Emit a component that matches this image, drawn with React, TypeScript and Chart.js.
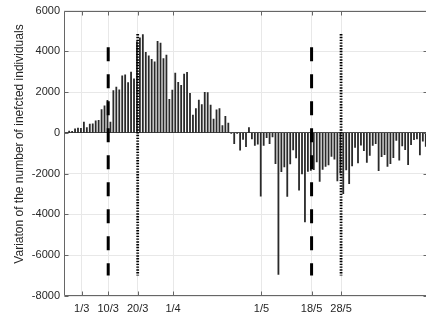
import React, { useEffect, useRef } from 'react';
import { Chart, registerables } from 'chart.js';

Chart.register(...registerables);

// Days are counted from 1 March 2020 (day 0). First bar: 25 February 2020.
const firstDay = -5;
const bulletinHour = 0.75; // daily bulletins are stamped 18:00

// Daily variation of currently infected individuals, 25 Feb -> 25 Jun 2020
const febValues = [90, 74, 203, 233, 228];
const marValues = [528, 258, 428, 443, 590, 620, 1145, 1326, 1598, 529, 2076, 2249, 2116, 2795, 2853, 2470, 2989, 2648, 4480, 4670, 4821, 3957, 3780, 3612, 3491, 4492, 4401, 3651, 3815, 1648, 2107];
const aprValues = [2937, 2477, 2339, 2886, 2972, 1941, 880, 1195, 1615, 1396, 1996, 1984, 1363, 675, 1127, 1189, 355, 809, 486, -20, -528, -10, -851, -321, -680, 256, -290, -608, -548, -3106];
const mayValues = [-608, -239, -525, -199, -1513, -6939, -1904, -1663, -3119, -1518, -836, -1222, -2809, -2017, -4370, -1883, -1836, -1798, -1424, -2377, -1792, -1638, -1570, -1158, -1294, -2358, -1976, -2980, -1811, -2484, -1616];
const junValues = [-708, -1474, -596, -868, -1453, -1099, -615, -532, -1858, -1162, -1073, -1640, -1512, -1211, -365, -1340, -644, -824, -1558, -571, -335, -300, -1080, -400, -660];
const dailyVariation = [...febValues, ...marValues, ...aprValues, ...mayValues, ...junValues];

const tickDays = [0, 9, 19, 31, 61, 78, 88];
const tickLabels = ['1/3', '10/3', '20/3', '1/4', '1/5', '18/5', '28/5'];
const yTickValues = [-8000, -6000, -4000, -2000, 0, 2000, 4000, 6000];

const dashedDays = [9, 78];
const dashedSpan = [4200, -7000];
const dottedDays = [19, 88];
const dottedSpan = [4850, -7000];

const xRange = [-6, 117.5];
const yRange = [-8000, 6000];
const yTitle = 'Variaton of the number of inefcted individuals';

const FONT = 'Liberation Sans, Arial, Helvetica, sans-serif';
const TEXT = '#262626';
const GRID = '#e8e8e8';

const axesBox = {
  id: 'axesBox',
  afterDatasetsDraw(chart: any) {
    const { ctx, chartArea: a, scales } = chart;
    const L = Math.round(a.left) + 0.5;
    const R = Math.round(a.right) - 0.5;
    const T = Math.round(a.top) + 0.5;
    const B = Math.round(a.bottom) - 0.5;
    const tl = 4;
    ctx.save();
    ctx.strokeStyle = '#666666';
    ctx.lineWidth = 1;
    ctx.beginPath();
    ctx.moveTo(L, B); ctx.lineTo(L, T); ctx.lineTo(R, T); ctx.lineTo(R, B); ctx.lineTo(L, B);
    tickDays.forEach((d) => {
      const px = Math.round(scales.x.getPixelForValue(d)) + 0.5;
      ctx.moveTo(px, B); ctx.lineTo(px, B - tl);
      ctx.moveTo(px, T); ctx.lineTo(px, T + tl);
    });
    yTickValues.forEach((v) => {
      const py = Math.round(scales.y.getPixelForValue(v)) + 0.5;
      ctx.moveTo(L, py); ctx.lineTo(L + tl, py);
      ctx.moveTo(R, py); ctx.lineTo(R - tl, py);
    });
    ctx.stroke();
    ctx.translate(20, 144);
    ctx.rotate(-Math.PI / 2);
    ctx.fillStyle = TEXT;
    ctx.font = `12px ${FONT}`;
    ctx.textAlign = 'center';
    ctx.textBaseline = 'middle';
    ctx.fillText(yTitle, 0, 0);
    ctx.restore();
  },
};

export default function App() {
  const ref = useRef<HTMLCanvasElement | null>(null);
  useEffect(() => {
    if (!ref.current) return;
    const bars = dailyVariation.map((v, i) => ({ x: firstDay + i + bulletinHour, y: v }));
    const markerLine = (day: number, span: number[], dash: number[], width: number) => ({
      type: 'line' as const,
      data: [{ x: day, y: span[0] }, { x: day, y: span[1] }],
      borderColor: '#000',
      borderWidth: width,
      borderDash: dash,
      borderCapStyle: 'butt' as const,
      pointRadius: 0,
      fill: false,
      order: 0,
    });
    const chart = new Chart(ref.current, {
      type: 'bar',
      data: {
        datasets: [
          {
            type: 'bar',
            data: bars,
            backgroundColor: '#2a2a2a',
            borderWidth: 0,
            barThickness: 1.15,
            order: 1,
          } as any,
          ...dashedDays.map((d) => markerLine(d, dashedSpan, [14, 13], 3)),
          ...dottedDays.map((d) => markerLine(d, dottedSpan, [1.4, 1.4], 2.8)),
        ],
      },
      plugins: [axesBox],
      options: {
        animation: false,
        responsive: false,
        devicePixelRatio: 1,
        layout: { padding: { left: 0, right: 0, top: 9, bottom: 0 } },
        plugins: { legend: { display: false }, tooltip: { enabled: false } },
        scales: {
          x: {
            type: 'linear',
            min: xRange[0],
            max: xRange[1],
            offset: false,
            afterBuildTicks: (scale: any) => {
              scale.ticks = tickDays.map((v) => ({ value: v }));
            },
            afterFit: (scale: any) => {
              scale.height = 24;
            },
            ticks: {
              autoSkip: false,
              maxRotation: 0,
              padding: 6,
              color: TEXT,
              font: { family: FONT, size: 11 },
              callback: (v: any) => tickLabels[tickDays.indexOf(Number(v))] ?? '',
            },
            grid: { color: GRID, drawTicks: false, offset: false },
            border: { display: false },
          },
          y: {
            type: 'linear',
            min: yRange[0],
            max: yRange[1],
            afterBuildTicks: (scale: any) => {
              scale.ticks = yTickValues.map((v) => ({ value: v }));
            },
            afterFit: (scale: any) => {
              scale.width = 64;
            },
            ticks: {
              padding: 4,
              color: TEXT,
              font: { family: FONT, size: 11 },
              callback: (v: any) => String(v),
            },
            grid: {
              color: (c: any) => (c.tick && c.tick.value === 0 ? '#4a4a4a' : GRID),
              drawTicks: false,
            },
            border: { display: false },
          },
        },
      } as any,
    });
    return () => chart.destroy();
  }, []);
  return (
    <div style={{ position: 'fixed', left: 0, top: 0, width: 426, height: 320, overflow: 'hidden', background: '#fff' }}>
      <canvas ref={ref} width={428} height={320} style={{ display: 'block' }} />
    </div>
  );
}
